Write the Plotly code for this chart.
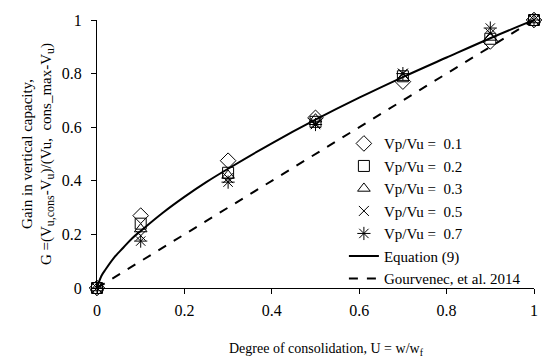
import plotly.graph_objects as go

U_pts = [0, 0.1, 0.3, 0.5, 0.7, 0.9, 1.0]
G_01 = [0, 0.27, 0.475, 0.635, 0.77, 0.92, 1.0]
G_02 = [0, 0.24, 0.43, 0.62, 0.79, 0.93, 1.0]
G_03 = [0, 0.22, 0.42, 0.63, 0.785, 0.935, 1.0]
G_05 = [0, 0.195, 0.41, 0.615, 0.80, 0.95, 1.0]
G_07 = [0, 0.175, 0.395, 0.61, 0.80, 0.97, 1.0]

U_eq = [0, 0.01, 0.02, 0.04, 0.06, 0.08, 0.1, 0.15, 0.2, 0.25, 0.3, 0.4, 0.5, 0.6, 0.7, 0.8, 0.9, 1.0]
G_eq = [0, 0.045, 0.07, 0.115, 0.15, 0.185, 0.213, 0.28, 0.34, 0.395, 0.445, 0.54, 0.628, 0.71, 0.787, 0.86, 0.932, 1.0]

U_gv = [0, 1]
G_gv = [0, 1]

tick_vals = [0, 0.2, 0.4, 0.6, 0.8, 1.0]
tick_text = ["0", "0.2", "0.4", "0.6", "0.8", "1"]

series = [
    ("Vp/Vu =  0.1", G_01, "diamond-open", 12),
    ("Vp/Vu =  0.2", G_02, "square-open", 11),
    ("Vp/Vu =  0.3", G_03, "triangle-up-open", 11),
    ("Vp/Vu =  0.5", G_05, "x-thin-open", 10),
    ("Vp/Vu =  0.7", G_07, "asterisk-open", 11),
]

FONT = "Liberation Serif"
SUB = '<sub><span style="font-size:12px">%s</span></sub>'
y_title = ("Gain in vertical capacity,<br>G =(V" + SUB % "u,cons" + "-V" + SUB % "u"
           + ")/(Vu,&nbsp;&nbsp;cons_max-V" + SUB % "u" + ")")

fig = go.Figure()
for name, g, sym, sz in series:
    fig.add_trace(go.Scatter(
        x=U_pts, y=g, mode="markers", name=name, cliponaxis=False,
        marker=dict(symbol=sym, size=sz, color="black", line=dict(color="black", width=1)),
    ))
fig.add_trace(go.Scatter(x=U_eq, y=G_eq, mode="lines", name="Equation (9)",
                         line=dict(color="black", width=2), line_shape="spline", cliponaxis=False))
fig.add_trace(go.Scatter(x=U_gv, y=G_gv, mode="lines", name="Gourvenec, et al. 2014",
                         line=dict(color="black", width=2, dash="dash"), cliponaxis=False))

fig.update_layout(
    width=550, height=363,
    margin=dict(l=97, r=12, t=15, b=75),
    paper_bgcolor="white", plot_bgcolor="white",
    font=dict(family=FONT, size=16, color="black"),
    showlegend=True,
    legend=dict(x=0.565, y=0.6, xanchor="left", yanchor="top",
                bgcolor="rgba(0,0,0,0)", font=dict(size=15, family=FONT),
                tracegroupgap=0, itemsizing="trace"),
    xaxis=dict(range=[0, 1], tickvals=tick_vals, ticktext=tick_text,
               showgrid=False, zeroline=False, showline=True, linecolor="black", linewidth=1,
               ticks="outside", ticklen=5, tickcolor="black", ticklabelstandoff=3,
               tickfont=dict(family=FONT, size=16)),
    yaxis=dict(range=[0, 1], tickvals=tick_vals, ticktext=tick_text,
               showgrid=False, zeroline=False, showline=True, linecolor="black", linewidth=1,
               ticks="outside", ticklen=5, tickcolor="black", ticklabelstandoff=6,
               tickfont=dict(family=FONT, size=16),
               title=dict(text=y_title, font=dict(family=FONT, size=15), standoff=6)),
    annotations=[dict(text="Degree of consolidation, U = w/w<sub>f</sub>", xref="paper", yref="paper",
                      x=0.525, y=-0.19, xanchor="center", yanchor="top", showarrow=False,
                      font=dict(family=FONT, size=14))],
)

fig.write_html("out.html")
